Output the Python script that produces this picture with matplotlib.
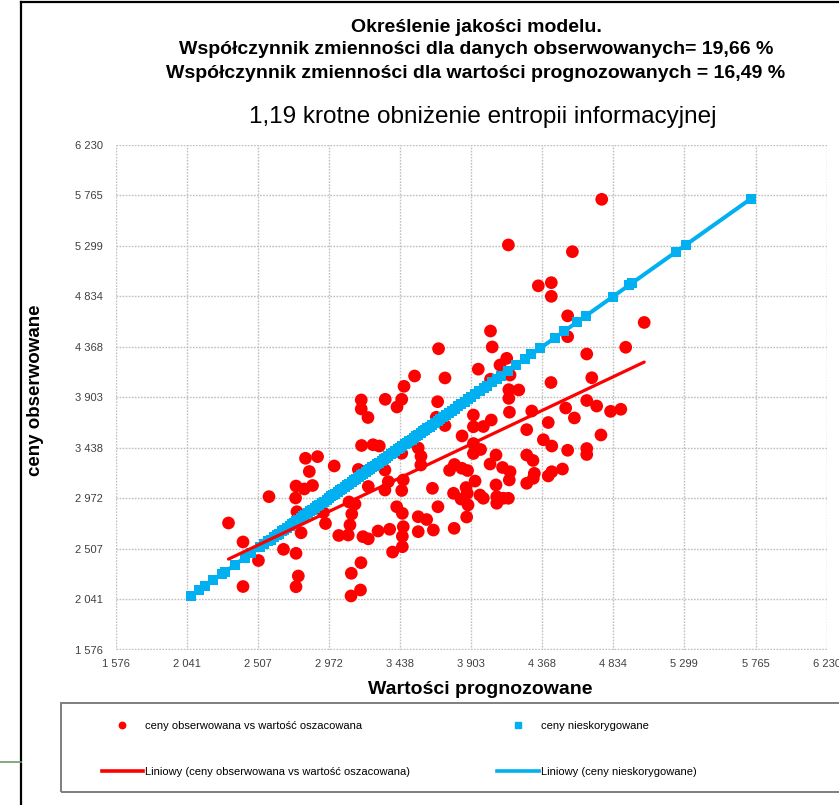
import numpy as np
import matplotlib
matplotlib.use("Agg")
import matplotlib.pyplot as plt
from matplotlib.lines import Line2D
from matplotlib.patches import Rectangle

# ---------------- data ----------------
obs_x = [2315, 2410, 2410, 2511, 2580, 2675, 2757, 2772, 2757, 2790, 2763, 2754, 2757, 2811, 2865,
         2844, 2819, 2898, 3007, 2936, 2950, 3037, 3099, 3110, 3122, 3104, 3143, 3165, 3186, 3261,
         3302, 3230, 3195, 3230, 3294, 3370, 3182, 3119, 3117, 3179, 3339, 3339, 3361, 3449, 3459,
         3449, 3416, 3453, 3459, 3453, 3453, 3389, 3557, 3575, 3574, 3557, 3557, 3612, 3656, 3650,
         3686, 3792, 3762, 3794, 3842, 3880, 3844, 3918, 3918, 3918, 3918, 3929, 3870, 3878, 3788,
         3837, 3883, 3874, 3961, 3732, 3675, 3684, 3464, 3418, 3449, 3341, 3184, 3184, 3228, 3732,
         3690, 3533, 3950, 4758, 4147, 4566, 4343, 4428, 4428, 4535, 4535, 5036, 4030, 4041, 4915,
         4660, 4136, 4092, 4158, 4693, 4426, 4030, 4150, 4215, 4150, 4660, 4725, 4522, 4300, 4154,
         4035, 4408, 4579, 4816, 4883, 3983, 4267, 4753, 4376, 4431, 4535, 4660, 4660, 3965, 4066,
         4027, 4109, 4158, 4153, 4267, 4308, 4317, 4267, 4310, 4431, 4408, 4501, 4066, 3983, 4071,
         4071, 4114, 4147]
obs_y = [2743, 2568, 2157, 2397, 2986, 2500, 2463, 2254, 2155, 2653, 2847, 2974, 3084, 3057, 3089,
         3218, 3340, 3355, 3269, 2840, 2738, 2628, 2632, 2725, 2826, 2937, 2918, 3237, 3458, 3465,
         3453, 3080, 2617, 2597, 2669, 2685, 2377, 2279, 2070, 2125, 3232, 3047, 3124, 3043, 3140,
         3386, 2893, 2832, 2709, 2620, 2524, 2475, 3435, 3358, 3278, 2801, 2663, 2775, 2678, 3063,
         2893, 2694, 3229, 3283, 3248, 3227, 3546, 3476, 3631, 3739, 3384, 3130, 3070, 3017, 3017,
         2964, 2909, 2798, 3001, 3642, 3718, 3862, 4004, 3813, 3884, 3884, 3878, 3795, 3716, 4081,
         4351, 4099, 4162, 5729, 5308, 5246, 4931, 4960, 4834, 4654, 4462, 4593, 4514, 4367, 4364,
         4302, 4262, 4200, 4108, 4083, 4039, 4069, 3973, 3970, 3893, 3873, 3822, 3804, 3776, 3765,
         3693, 3670, 3712, 3773, 3792, 3633, 3604, 3555, 3511, 3453, 3414, 3430, 3375, 3421, 3370,
         3287, 3255, 3216, 3140, 3370, 3320, 3201, 3109, 3155, 3216, 3177, 3241, 3094, 2971, 2986,
         2925, 2971, 2971]

blue_vals = [2070, 2125, 2160, 2215, 2275, 2290, 2355, 2420, 2465, 2520, 2548, 2575, 2590, 2612, 2630,
             2645, 2668, 2680, 2697, 2715, 2730, 2741, 2760, 2772, 2790, 2805, 2818, 2836, 2850, 2862,
             2880, 2897, 2910, 2925, 2941, 2958, 2970, 2988, 3002, 3015, 3031, 3048, 3060, 3078, 3092,
             3105, 3121, 3137, 3150, 3168, 3182, 3196, 3212, 3228, 3240, 3257, 3271, 3286, 3300, 3317,
             3333, 3346, 3362, 3378, 3391, 3408, 3422, 3437, 3451, 3468, 3482, 3497, 3513, 3528, 3541,
             3556, 3572, 3588, 3603, 3617, 3633, 3650, 3668, 3685, 3702, 3720, 3741, 3758, 3777, 3795,
             3818, 3840, 3862, 3885, 3905, 3930, 3958, 3985, 4010, 4040, 4070, 4100, 4145, 4199, 4253,
             4298, 4357, 4454, 4510, 4593, 4653, 4830, 4935, 4955, 5245, 5310, 5735]

tick_values = [1576, 2041, 2507, 2972, 3438, 3903, 4368, 4834, 5299, 5765, 6230]
tick_labels = ["1 576", "2 041", "2 507", "2 972", "3 438", "3 903", "4 368", "4 834", "5 299", "5 765", "6 230"]

title_lines = ["Określenie jakości modelu.",
               "Współczynnik zmienności dla danych obserwowanych= 19,66 %",
               "Współczynnik zmienności dla wartości prognozowanych = 16,49 %"]
subtitle = "1,19 krotne obniżenie entropii informacyjnej"
xlabel = "Wartości prognozowane"
ylabel = "ceny obserwowane"
leg_labels = ["ceny obserwowana vs wartość oszacowana",
              "Liniowy (ceny obserwowana vs wartość oszacowana)",
              "ceny nieskorygowane",
              "Liniowy (ceny nieskorygowane)"]

RED = "#FF0000"
BLUE = "#00B0F0"
plt.rcParams["font.family"] = ["Liberation Sans", "DejaVu Sans"]

W, H = 839, 805
fig = plt.figure(figsize=(W / 100, H / 100), dpi=100)
ax = fig.add_axes([115.6 / W, 1 - 649.5 / H, 711 / W, 504.5 / H])

ox = np.array(obs_x, float)
oy = np.array(obs_y, float)
bv = np.array(blue_vals, float)

ax.scatter(ox, oy, s=84, color=RED, edgecolors="none", zorder=3)
ax.scatter(bv, bv, s=52, marker="s", color=BLUE, edgecolors="none", zorder=4)

k, b = np.polyfit(ox, oy, 1)
xr = np.array([ox.min(), ox.max()])
ax.plot(xr, k * xr + b, color=RED, lw=2.3, zorder=5, solid_capstyle="round")
kb, bb = np.polyfit(bv, bv, 1)
xb = np.array([bv.min(), bv.max()])
ax.plot(xb, kb * xb + bb, color=BLUE, lw=2.9, zorder=4.5, solid_capstyle="round")

ax.set_xlim(tick_values[0], tick_values[-1])
ax.set_ylim(tick_values[0], tick_values[-1])
ax.set_xticks(tick_values)
ax.set_xticklabels(tick_labels)
ax.set_yticks(tick_values)
ax.set_yticklabels(tick_labels)
ax.tick_params(length=0, labelsize=8, colors="#404040")
ax.tick_params(axis="y", pad=9)
ax.tick_params(axis="x", pad=7)
for sp in ax.spines.values():
    sp.set_visible(False)
ax.grid(True, color="#C0C0C0", linestyle=(0, (1.2, 1.0)), lw=1.0, zorder=0)
ax.set_axisbelow(True)

ax.set_xlabel(xlabel, fontsize=14, fontweight="bold")
ax.set_ylabel(ylabel, fontsize=13.5, fontweight="bold")
ax.xaxis.set_label_coords((480 - 115.6) / 711, -(690 - 649.5) / 504.5)
ax.xaxis.label.set_va("center")
ax.yaxis.set_label_coords(-(115.6 - 35) / 711, (649.5 - 390) / 504.5)
ax.yaxis.label.set_va("center")

# titles
ty = [28, 50, 73]
for t, y in zip(title_lines, ty):
    fig.text(476 / W, 1 - y / H, t, ha="center", va="center", fontsize=14, fontweight="bold")
fig.text(483 / W, 1 - 117 / H, subtitle, ha="center", va="center", fontsize=17.5)

# frame lines of the outer picture
fig.add_artist(Line2D([21 / W, 1], [1 - 2 / H, 1 - 2 / H], color="black", lw=1.6))
fig.add_artist(Line2D([21 / W, 21 / W], [0, 1 - 2 / H], color="black", lw=1.6))
fig.add_artist(Line2D([0, 21 / W], [1 - 762 / H, 1 - 762 / H], color="#6E9A6E", lw=1.2))

# legend box
fig.add_artist(Rectangle((60.5 / W, 1 - 791.7 / H), (W + 10 - 60.5) / W, (791.7 - 702.7) / H,
                         transform=fig.transFigure, fill=False, edgecolor="#7F7F7F", lw=1.4))
h_red = Line2D([], [], marker="o", color=RED, ls="none", markersize=4.6)
h_blue = Line2D([], [], marker="s", color=BLUE, ls="none", markersize=4.3)
h_lred = Line2D([], [], color=RED, lw=2.6)
h_lblue = Line2D([], [], color=BLUE, lw=2.6)
leg_kw = dict(frameon=False, loc="upper left", borderpad=0, borderaxespad=0,
              handlelength=3.75, handletextpad=0.2, labelspacing=3.25,
              prop={"size": 8})
fig.legend([h_red, h_lred], [leg_labels[0], leg_labels[1]],
           bbox_to_anchor=(101.6 / W, 1 - 720.5 / H), **leg_kw)
fig.legend([h_blue, h_lblue], [leg_labels[2], leg_labels[3]],
           bbox_to_anchor=(497 / W, 1 - 720.5 / H), **leg_kw)

fig.savefig("out.png", dpi=100)
